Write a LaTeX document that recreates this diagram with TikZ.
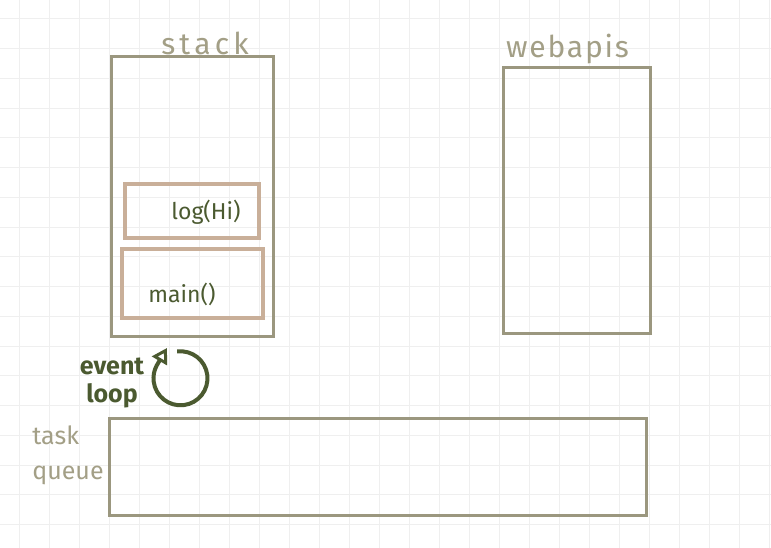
\documentclass[tikz,border=0pt]{standalone}
\usepackage{fontspec}
\setmainfont{Fira Sans}
\usepackage{tikz}
\usetikzlibrary{arrows.meta,positioning}
\definecolor{GridLine}{HTML}{EFEFEF}
\definecolor{BoxEdge}{HTML}{9B977F}
\definecolor{LabelGray}{HTML}{A39F86}
\definecolor{FrameTan}{HTML}{C9AF99}
\definecolor{InkGreen}{HTML}{4B5A30}

\begin{document}
\begin{tikzpicture}[
  x=1pt, y=1pt,
  area/.style={draw=BoxEdge,line width=3pt,inner sep=0pt},
  frame/.style={draw=FrameTan,line width=4pt,inner sep=0pt},
  title/.style={text=LabelGray,font=\fontsize{30}{30}\selectfont\addfontfeatures{LetterSpace=6}},
  call/.style={text=InkGreen,font=\fontsize{23}{24}\selectfont},
  arrow/.style={-{Triangle[open,length=15pt,width=17pt,line width=3pt]},draw=InkGreen,line width=4pt}
]
  \useasboundingbox[fill=white] (0,0) rectangle (771,548);
  % grid
  \foreach \gx in {19,49,...,769} \draw[GridLine,line width=1pt] (\gx,0) -- (\gx,548);
  \foreach \gy in {0,...,18} \draw[GridLine,line width=1pt] (0,529-29.75*\gy) -- (771,529-29.75*\gy);

  \node[area, minimum width=162, minimum height=280] (stack) at (192,351) {};
  \node[title, above=-3pt of stack, xshift=13pt] (stacklbl) {\addfontfeatures{LetterSpace=14}stack};
  \node[frame, minimum width=134, minimum height=54] (log) at (192,337) {};
  \node[frame, minimum width=141, minimum height=69] (main) at (192.5,264.5) {};
  \node[call] (logtxt) at (206,336) {log(Hi)};
  \node[call] (maintxt) at (182,254) {main()};

  \node[area, minimum width=147, minimum height=266] (webapis) at (576.5,347) {};
  \node[title, above=-1pt of webapis, xshift=-9pt] (webapislbl) {webapis};

  \node[area, minimum width=537, minimum height=97] (queue) at (377.5,80.5) {};
  \node[title, align=left, font=\fontsize{25}{35}\selectfont] (queuelbl) at (68,93) {task\\queue};

  % event loop
  \node[circle, minimum size=54, inner sep=0pt] (loop) at (180.5,169.5) {};
  \coordinate (looptip) at (167,200);
  \node[align=center, text=InkGreen, font=\bfseries\fontsize{25}{28}\selectfont] (looplbl) at (112,165) {event\\loop};
  \draw[arrow] (loop.97) arc[start angle=97, end angle=-208, radius=27] -- (looptip);
\end{tikzpicture}
\end{document}
